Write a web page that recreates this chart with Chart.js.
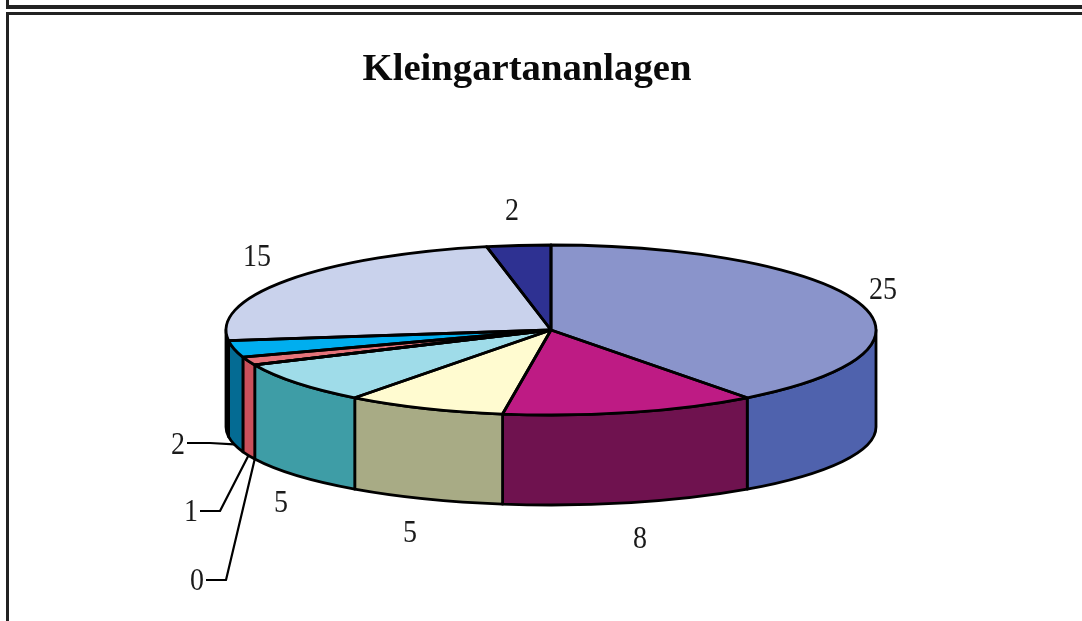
<!DOCTYPE html>
<html><head><meta charset="utf-8">
<style>
html,body{margin:0;padding:0;background:#fff;width:1082px;height:621px;overflow:hidden}
#a{position:absolute;left:6px;top:0;right:0;height:5px;border-left:3px solid #222;border-bottom:4px solid #222}
#b{position:absolute;left:6px;top:12px;right:0;bottom:0;border-left:3px solid #222;border-top:3px solid #222}
canvas{position:absolute;left:0;top:0}
</style></head><body>
<div id="a"></div><div id="b"></div>
<canvas id="c" width="1054" height="621"></canvas>
<script src="https://cdn.jsdelivr.net/npm/chart.js@4/dist/chart.umd.min.js"></script>
<script>
const titleText = 'Kleingartananlagen';
const values = [25, 8, 5, 5, 0, 1, 2, 15, 2];
const topColors = ['#8A94CB','#BE1B84','#FFFBD0','#9FDCE9','#D8D8D8','#E5737A','#00AEEF','#C9D2EC','#2E3192'];
const wallColors = ['#4F62AD','#6F124F','#A8AB85','#3E9DA6','#888888','#C9505B','#046B93','#101A28','#1B1D5A'];
const labelPos = [[883,291],[640,540],[410,534],[281,504],[197,582],[191,513],[178,446],[257,258],[512,212]];
const leaderElbows = {4:[[206,580],[226,580]],5:[[200,511],[220,511]],6:[[187,443],[210,443]]};
const pie3d = {rx:325, ry:85, cx:551, cy:330, botCy:427, botRy:78};

function ellipseAt(a,cy,ry){const P=pie3d;return [P.cx+P.rx*Math.cos(a),cy+ry*Math.sin(a)];}
const plugin3d = {
  id:'pie3d',
  beforeDatasetsDraw(chart){
    const ctx=chart.ctx, P=pie3d, arcs=chart.getDatasetMeta(0).data;
    ctx.save();
    ctx.lineWidth=2.8; ctx.strokeStyle='#000'; ctx.lineJoin='round';
    arcs.forEach((arc,i)=>{
      const a0=Math.max(arc.startAngle,0), a1=Math.min(arc.endAngle,Math.PI);
      if(a1<=a0) return;
      ctx.beginPath();
      ctx.ellipse(P.cx,P.cy,P.rx,P.ry,0,a0,a1);
      ctx.ellipse(P.cx,P.botCy,P.rx,P.botRy,0,a1,a0,true);
      ctx.closePath();
      ctx.fillStyle=wallColors[i]; ctx.fill(); ctx.stroke();
    });
    ctx.restore();
    const r=arcs[0].outerRadius;
    ctx.save();
    ctx.translate(P.cx,P.cy);
    ctx.scale(P.rx/r,P.ry/r);
    ctx.translate(-arcs[0].x,-arcs[0].y);
  },
  afterDatasetsDraw(chart){
    const ctx=chart.ctx, P=pie3d, arcs=chart.getDatasetMeta(0).data;
    ctx.restore();
    ctx.save();
    ctx.lineWidth=2.8; ctx.strokeStyle='#000'; ctx.lineJoin='round';
    arcs.forEach(arc=>{
      ctx.beginPath();
      ctx.moveTo(P.cx,P.cy);
      ctx.ellipse(P.cx,P.cy,P.rx,P.ry,0,arc.startAngle,arc.endAngle);
      ctx.closePath();
      ctx.stroke();
    });
    // leader lines
    ctx.lineWidth=2.2;
    Object.keys(leaderElbows).forEach(k=>{
      const arc=arcs[k], mid=(arc.startAngle+arc.endAngle)/2;
      const [x,y]=ellipseAt(mid,P.botCy,P.botRy);
      const el=leaderElbows[k];
      ctx.beginPath();
      ctx.moveTo(el[0][0],el[0][1]); ctx.lineTo(el[1][0],el[1][1]); ctx.lineTo(x,y);
      ctx.stroke();
    });
    // value labels
    ctx.fillStyle='#1a1a1a';
    ctx.font='28px "Liberation Serif"';
    ctx.textAlign='center'; ctx.textBaseline='middle';
    values.forEach((v,i)=>{
      ctx.save();
      ctx.translate(labelPos[i][0],labelPos[i][1]);
      ctx.scale(1,1.14);
      ctx.fillText(String(v),0,0);
      ctx.restore();
    });
    ctx.restore();
  }
};

new Chart(document.getElementById('c'),{
  type:'pie',
  data:{labels:values.map(String),datasets:[{data:values,backgroundColor:topColors,borderWidth:0,clip:false,hoverOffset:0}]},
  options:{
    responsive:false,animation:false,events:[],
    layout:{padding:{left:0,bottom:40,top:0,right:0}},
    plugins:{
      legend:{display:false},tooltip:{enabled:false},
      title:{display:true,text:titleText,color:'#0a0a0a',font:{family:'"Liberation Serif"',size:38.7,weight:'bold',lineHeight:1.2},padding:{top:47,bottom:4}}
    }
  },
  plugins:[plugin3d]
});
</script>
</body></html>
